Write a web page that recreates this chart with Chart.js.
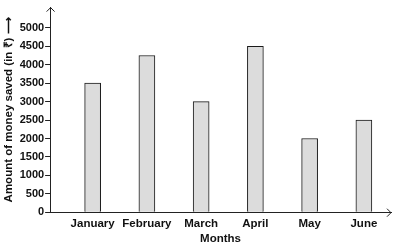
<!DOCTYPE html>
<html><head><meta charset="utf-8">
<script src="https://cdn.jsdelivr.net/npm/chart.js@4/dist/chart.umd.min.js"></script>
<style>html,body{margin:0;padding:0;background:#fff}#wrap{width:393px;height:246px}</style>
</head><body><div id="wrap"><canvas id="c" width="393" height="246"></canvas></div>
<script>
const months = ['January','February','March','April','May','June'];
const savings = [3500,4250,3000,4500,2000,2500];
const yTicks = [0,500,1000,1500,2000,2500,3000,3500,4000,4500,5000];

const arrows = {
  id:'arrows',
  afterDraw(chart){
    const ctx = chart.ctx, a = chart.chartArea;
    ctx.save();
    ctx.strokeStyle = '#222'; ctx.lineWidth = 1;
    ctx.beginPath();
    ctx.moveTo(a.left-3.5, a.top+4); ctx.lineTo(a.left+0.5, a.top); ctx.lineTo(a.left+4.5, a.top+4);
    ctx.moveTo(a.right-4, a.bottom-3.5); ctx.lineTo(a.right, a.bottom+0.5); ctx.lineTo(a.right-4, a.bottom+4.5);
    ctx.stroke();
    ctx.restore();
  }
};

new Chart(document.getElementById('c'), {
  type:'bar',
  data:{ datasets:[{ data: savings.map((v,i)=>({x:i,y:v})), backgroundColor:'#dcdcdc', borderColor:'#1a1a1a', borderWidth:1, barThickness:16 }]},
  options:{
    responsive:false, animation:false, devicePixelRatio:1,
    layout:{padding:{top:3,right:2,left:3,bottom:1}},
    plugins:{legend:{display:false}, tooltip:{enabled:false}},
    scales:{
      x:{ type:'linear', min:-0.784, max:5.5, offset:false,
        afterBuildTicks: s => { s.ticks = months.map((_,i)=>({value:i})); },
        grid:{display:false}, border:{display:true,color:'#222',width:1},
        ticks:{ callback: v => months[v], color:'#111', font:{family:'Liberation Sans', size:11.5, weight:'bold', lineHeight:1.1}, padding:-2.5, maxRotation:0, autoSkip:false },
        title:{display:true, text:'Months', color:'#111', font:{family:'Liberation Sans', size:11.5, weight:'bold', lineHeight:1.1}, padding:{top:4.5,bottom:0}}
      },
      y:{ min:0, max:5550,
        afterBuildTicks: s => { s.ticks = yTicks.map(v=>({value:v})); },
        grid:{drawOnChartArea:false, tickLength:5, color:'#222'}, border:{display:true,color:'#222',width:1},
        ticks:{ callback: v => String(v), color:'#111', font:{family:'Liberation Sans', size:11, weight:'bold'}, padding:1 },
        title:{display:true, text:'Amount of money saved (in ₹) ⟶', color:'#111', font:{family:'Liberation Sans', size:11.5, weight:'bold', lineHeight:1.1}, padding:{top:0,bottom:3}}
      }
    }
  },
  plugins:[arrows]
});
</script></body></html>
